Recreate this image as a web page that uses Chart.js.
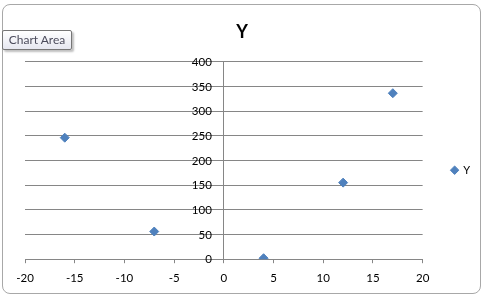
<!DOCTYPE html>
<html>
<head>
<meta charset="utf-8">
<script src="https://cdn.jsdelivr.net/npm/chart.js@4.4.0/dist/chart.umd.min.js"></script>
<style>
html, body { margin: 0; padding: 0; background: #fff; overflow: hidden; }
#frame { position: absolute; left: 2px; top: 4px; width: 477px; height: 288px;
  border: 1px solid #a8a8a8; border-radius: 8px; background: #fff; }
#wrap { position: absolute; left: 0; top: 0; width: 484px; height: 297px; }
#tip { position: absolute; left: 2px; top: 30px; width: 68px; height: 18px;
  border: 1px solid #767676; border-radius: 2px;
  background: linear-gradient(#ffffff, #e6e7f0);
  box-shadow: 2px 2px 2px rgba(0,0,0,0.25);
  font: 12px Lato, sans-serif; color: #4c4c5c; line-height: 18px; text-align: center; }
</style>
</head>
<body>
<div id="frame"></div>
<div id="wrap"><canvas id="myChart" width="484" height="297"></canvas></div>
<div id="tip">Chart Area</div>
<script>
/*---- data ----*/
var seriesName = "Y";
var xValues = [-16, -7, 4, 12, 17];
var yValues = [246, 56, 2, 155, 336];
var xTickRange = [-20, 20, 5];   // min, max, step
var yTickRange = [0, 400, 50];

var points = [];
for (var i = 0; i < xValues.length; i++) {
	points.push({x: xValues[i], y: yValues[i]});
}

var gridColor = "#868686";
var blue = "#4F81BD";
var tickFont = { family: 'Lato', size: 11.5 };

/*---- y labels sit left of the y axis, which crosses at x = 0 ----*/
var yLabelPlugin = {
	id: 'yLabels',
	afterDraw: function(chart) {
		var ys = chart.scales.y;
		var x0 = chart.scales.x.getPixelForValue(0);
		var c = chart.ctx;
		c.save();
		c.font = tickFont.size + 'px ' + tickFont.family;
		c.fillStyle = '#000';
		c.textAlign = 'right';
		c.textBaseline = 'middle';
		ys.ticks.forEach(function(t) {
			c.fillText(t.label, x0 - 12, ys.getPixelForValue(t.value) + 0.5);
		});
		c.restore();
	}
};

var ctx = document.getElementById("myChart").getContext("2d");
var myChart = new Chart(ctx, {
	type: 'scatter',
	data: {
		datasets: [{
			label: seriesName,
			data: points,
			pointStyle: 'rectRot',
			pointRadius: 4.5,
			pointHoverRadius: 4.5,
			backgroundColor: blue,
			borderColor: blue,
			borderWidth: 1
		}]
	},
	plugins: [yLabelPlugin],
	options: {
		responsive: false,
		animation: false,
		devicePixelRatio: 1,
		layout: { padding: { left: 4, right: 4, top: 0, bottom: 4 } },
		plugins: {
			title: {
				display: true,
				text: seriesName,
				color: '#000',
				font: { family: 'Lato', size: 18, weight: 'bold' },
				padding: { top: 21, bottom: 19 }
			},
			legend: {
				display: true,
				position: 'right',
				title: { display: true, text: ' ', font: { size: 12 }, padding: { top: 16, bottom: 17 } },
				labels: {
					usePointStyle: true,
					boxWidth: 6,
					boxHeight: 6,
					color: '#000',
					font: { family: 'Lato', size: 11 },
					padding: 29
				}
			},
			tooltip: { enabled: false }
		},
		scales: {
			x: {
				type: 'linear',
				position: 'bottom',
				min: xTickRange[0],
				max: xTickRange[1],
				ticks: { stepSize: xTickRange[2], color: '#000', padding: 8,
					font: tickFont, maxRotation: 0 },
				grid: { drawOnChartArea: false, drawTicks: true, tickLength: 4, color: gridColor },
				border: { display: true, color: gridColor }
			},
			y: {
				type: 'linear',
				position: { x: 0 },
				min: yTickRange[0],
				max: yTickRange[1],
				ticks: { stepSize: yTickRange[2], display: false },
				grid: { drawTicks: false, color: gridColor },
				border: { display: true, color: gridColor }
			},
			// empty axis on the left, only there to leave room left of the plot
			spacer: {
				type: 'linear',
				position: 'left',
				ticks: { display: false },
				grid: { display: false },
				border: { display: false },
				afterFit: function(scale) { scale.width = 21; }
			}
		}
	}
});
</script>
</body>
</html>
